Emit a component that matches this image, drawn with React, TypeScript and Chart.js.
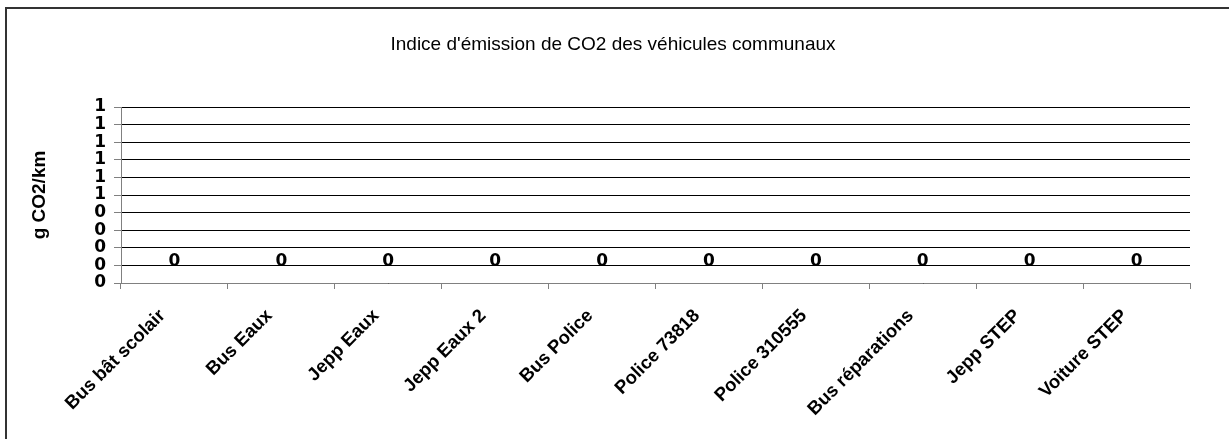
import React, { useEffect, useRef } from "react";
import { Chart, registerables } from "chart.js";

Chart.register(...registerables);

const chartTitle = "Indice d'émission de CO2 des véhicules communaux";
const yAxisTitle = "g CO2/km";
const categories = [
  "Bus bât scolair",
  "Bus Eaux",
  "Jepp Eaux",
  "Jepp Eaux 2",
  "Bus Police",
  "Police 73818",
  "Police 310555",
  "Bus réparations",
  "Jepp STEP",
  "Voiture STEP",
];
const emissions = [0, 0, 0, 0, 0, 0, 0, 0, 0, 0];
const yMin = 0;
const yMax = 1;
const yStep = 0.1;

const FONT = "'Liberation Sans', Arial, sans-serif";
const NUMFONT = "'DejaVu Sans', Verdana, sans-serif";

const dataLabelPlugin = {
  id: "dataLabels",
  afterDatasetsDraw(chart: any) {
    const ctx = chart.ctx;
    const meta = chart.getDatasetMeta(0);
    ctx.save();
    ctx.font = `bold 17px ${NUMFONT}`;
    ctx.fillStyle = "#000";
    ctx.textAlign = "center";
    ctx.textBaseline = "alphabetic";
    meta.data.forEach((bar: any, i: number) => {
      const v = chart.data.datasets[0].data[i];
      ctx.fillText(String(Math.round(v)), bar.x, bar.y - 17);
    });
    ctx.restore();
  },
};

export default function App() {
  const canvasRef = useRef<HTMLCanvasElement | null>(null);

  useEffect(() => {
    if (!canvasRef.current) return;
    const chart = new Chart(canvasRef.current, {
      type: "bar",
      data: {
        labels: categories,
        datasets: [
          {
            label: yAxisTitle,
            data: emissions,
            backgroundColor: "#9999ff",
            borderColor: "#000",
            borderWidth: 0,
          },
        ],
      },
      options: {
        animation: false,
        responsive: true,
        maintainAspectRatio: false,
        layout: { padding: { left: 36, right: 39, top: 0, bottom: 0 } },
        plugins: {
          legend: { display: false },
          tooltip: { enabled: false },
          title: {
            display: true,
            text: chartTitle,
            color: "#000",
            font: { family: FONT, size: 19, weight: "normal" as any, lineHeight: 1.2 },
            padding: { top: 33.6, bottom: 50.6 },
          },
        },
        scales: {
          x: {
            grid: {
              offset: true,
              drawOnChartArea: false,
              drawTicks: true,
              tickLength: 6,
              tickColor: "#808080",
            },
            border: { display: true, color: "#808080", width: 1 },
            ticks: {
              color: "#000",
              font: { family: FONT, size: 18.5, weight: "bold" as any },
              minRotation: 45,
              maxRotation: 45,
              autoSkip: false,
              padding: 16,
              labelOffset: -12,
            },
            afterFit(scale: any) {
              scale.height = 156;
            },
          },
          y: {
            min: yMin,
            max: yMax,
            grid: {
              color: "#000",
              lineWidth: 1,
              drawTicks: true,
              tickLength: 7,
              tickColor: "#808080",
            },
            border: { display: true, color: "#808080", width: 1 },
            ticks: {
              stepSize: yStep,
              autoSkip: false,
              color: "#000",
              font: { family: NUMFONT, size: 17, weight: "bold" as any, lineHeight: 1 },
              padding: 8,
              callback: (value: any) => String(Math.round(Number(value))),
            },
            title: {
              display: true,
              text: yAxisTitle,
              color: "#000",
              font: { family: FONT, size: 19, weight: "bold" as any, lineHeight: 1.2 },
              padding: { top: -7.4, bottom: 0 },
            },
            afterFit(scale: any) {
              scale.width = 85;
            },
          },
        },
      },
      plugins: [dataLabelPlugin],
    });
    return () => chart.destroy();
  }, []);

  return (
    <div
      style={{
        position: "fixed",
        left: 0,
        top: 0,
        width: 1229,
        height: 439,
        overflow: "hidden",
        background: "#fff",
      }}
    >
      <div
        style={{
          position: "absolute",
          left: 5,
          top: 7,
          width: 1300,
          height: 500,
          borderTop: "2px solid #333",
          borderLeft: "2px solid #333",
        }}
      />
      <div style={{ position: "absolute", left: 0, top: 0, width: 1229, height: 439 }}>
        <canvas ref={canvasRef} />
      </div>
    </div>
  );
}
